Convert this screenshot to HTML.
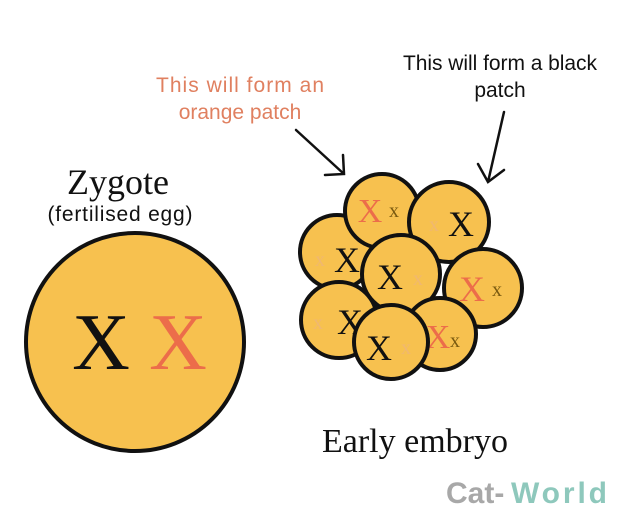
<!DOCTYPE html>
<html><head><meta charset="utf-8"><style>
html,body{margin:0;padding:0;background:#fff;width:640px;height:530px;overflow:hidden}
</style></head><body>
<svg width="640" height="530" viewBox="0 0 640 530" xmlns="http://www.w3.org/2000/svg">
<g font-family="Liberation Sans, sans-serif" font-size="21" text-anchor="middle">
<text x="240" y="92" fill="#e08060" textLength="168">This will form an</text>
<text x="240" y="119" fill="#e08060">orange patch</text>
<text x="500" y="70" fill="#111" textLength="194">This will form a black</text>
<text x="500" y="97" fill="#111">patch</text>
<text x="120" y="221" fill="#111" textLength="145" font-size="21">(fertilised egg)</text>
</g>
<g font-family="Liberation Serif, serif" text-anchor="middle" fill="#111">
<text x="118" y="194" font-size="36">Zygote</text>
<text x="415" y="452" font-size="34">Early embryo</text>
</g>
<g stroke="#111" stroke-width="2.5" fill="none" stroke-linecap="round">
<path d="M296 130 L344 174 M325 175 L344 174 L343 155"/>
<path d="M504 112 L488 182 M478 164 L488 182 L504 170"/>
</g>
<circle cx="135" cy="342" r="109" fill="#f7c14f" stroke="#111" stroke-width="4"/>
<g font-family="Liberation Serif, serif" text-anchor="middle" font-size="80">
<text x="101" y="369" fill="#111">X</text>
<text x="178" y="369" fill="#ec6d4a">X</text>
</g>
<g stroke="#111" stroke-width="4" fill="#f7c14f" font-family="Liberation Serif, serif" text-anchor="middle">
<circle cx="337" cy="252" r="37"/>
<text x="320" y="266" font-size="20" fill="#f0b870" stroke="none">x</text>
<text x="347" y="272" font-size="36" fill="#111" stroke="none">X</text>
<circle cx="382" cy="211" r="37"/>
<text x="370" y="222" font-size="34" fill="#ec6d4a" stroke="none">X</text>
<text x="394" y="217" font-size="20" fill="#7a5a10" stroke="none">x</text>
<circle cx="449" cy="222" r="40"/>
<text x="434" y="231" font-size="20" fill="#f0b870" stroke="none">x</text>
<text x="461" y="236" font-size="36" fill="#111" stroke="none">X</text>
<circle cx="483" cy="288" r="39"/>
<text x="472" y="301" font-size="36" fill="#ec6d4a" stroke="none">X</text>
<text x="497" y="296" font-size="20" fill="#7a5a10" stroke="none">x</text>
<circle cx="401" cy="274" r="39"/>
<text x="390" y="289" font-size="36" fill="#111" stroke="none">X</text>
<text x="418" y="285" font-size="20" fill="#f0b870" stroke="none">x</text>
<circle cx="339" cy="320" r="38"/>
<text x="318" y="329" font-size="20" fill="#f0b870" stroke="none">x</text>
<text x="350" y="334" font-size="36" fill="#111" stroke="none">X</text>
<circle cx="440" cy="334" r="36"/>
<text x="438" y="348" font-size="34" fill="#ec6d4a" stroke="none">X</text>
<text x="455" y="347" font-size="20" fill="#7a5a10" stroke="none">x</text>
<circle cx="391" cy="342" r="37"/>
<text x="379" y="360" font-size="36" fill="#111" stroke="none">X</text>
<text x="406" y="354" font-size="20" fill="#f0b870" stroke="none">x</text>
</g>
<g font-family="Liberation Sans, sans-serif" font-weight="bold" font-size="30">
<text x="446" y="503" fill="#a8a8a8">Cat-</text>
<text x="511" y="503" fill="#8ec8bc" textLength="96">World</text>
</g>
</svg>
</body></html>
